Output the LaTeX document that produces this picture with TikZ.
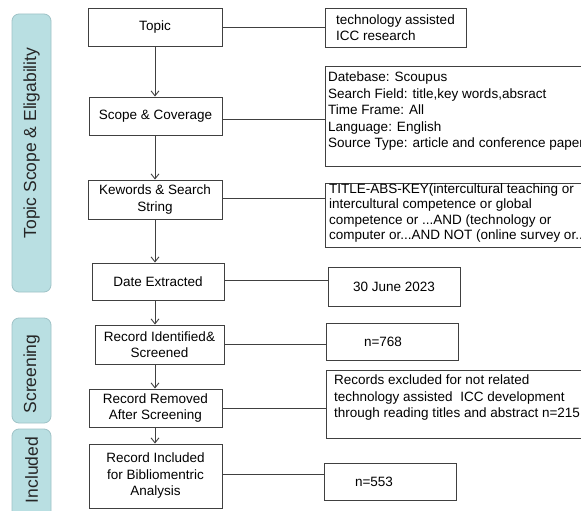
\documentclass[tikz,border=0pt]{standalone}
\usepackage{fontspec}
\setmainfont{Liberation Sans}
\usetikzlibrary{arrows.meta}
\definecolor{sidefill}{HTML}{B9DFE2}
\definecolor{sideedge}{HTML}{9FC3C7}
\definecolor{lineclr}{HTML}{404040}
\begin{document}
\begin{tikzpicture}[x=1pt,y=-1pt,
  box/.style={draw=lineclr, line width=0.9pt, inner sep=0pt, font=\fontsize{13.5}{16.5}\selectfont, align=center},
  txt/.style={inner sep=0pt, font=\fontsize{13.5}{16.5}\selectfont, align=left, anchor=north west},
  side/.style={draw=sideedge, fill=sidefill, rounded corners=7pt, line width=0.8pt, inner sep=0pt},
  sidetxt/.style={rotate=90, inner sep=0pt, font=\fontsize{17.5}{20}\selectfont, text=black!85},
  arr/.style={-{Straight Barb[length=5pt,width=8pt]}, line width=0.9pt, draw=lineclr},
  link/.style={line width=0.9pt, draw=lineclr}]
\clip (0,0) rectangle (581,511);
\fill[white] (0,0) rectangle (581,511);

% side labels
\node[side, minimum width=39pt, minimum height=278pt] (s1) at (31.5,153) {};
\node[sidetxt] (s1t) at (31.5,143) {Topic Scope \& Eligability};
\node[side, minimum width=39pt, minimum height=105pt] (s2) at (31.5,370.5) {};
\node[sidetxt] (s2t) at (31.5,374) {Screening};
\node[side, minimum width=39pt, minimum height=92pt] (s3) at (31.5,475) {};
\node[sidetxt] (s3t) at (31.5,470) {Included};

% main column
\node[box, minimum width=134pt, minimum height=38pt] (topic) at (155,27) {Topic};
\node[box, minimum width=133pt, minimum height=38pt] (scope) at (155.5,116) {Scope \& Coverage};
\node[box, minimum width=134pt, minimum height=39pt] (kew) at (155,199.5) {Kewords \& Search\\String};
\node[box, minimum width=132pt, minimum height=37pt] (date) at (158,281.5) {Date Extracted};
\node[box, minimum width=129pt, minimum height=39pt] (rid) at (159.5,344.5) {Record Identified\&\\Screened};
\node[box, minimum width=133pt, minimum height=38pt] (rem) at (155.5,408) {Record Removed\\After Screening};
\node[box, minimum width=133pt, minimum height=64pt] (inc) at (155.5,476) {Record Included\\for Bibliomentric\\Analysis};

% right column
\node[box, align=left, minimum width=141pt, minimum height=39pt, font=\fontsize{13.5}{16}\selectfont] (tech) at (395.5,27.5) {technology assisted\\ICC research};
\node[box, minimum width=285pt, minimum height=100pt] (db) at (467.5,116) {};
\node[txt] (dbt) at (328,72) {Datebase: Scoupus\\Search Field: title,key words,absract\\Time Frame: All\\Language: English\\Source Type: article and conference paper};
\node[box, minimum width=285pt, minimum height=64pt] (kw) at (467.5,215) {};
\node[txt, font=\fontsize{13.5}{15.4}\selectfont] (kwt) at (329,183.5) {TITLE-ABS-KEY(intercultural teaching or\\intercultural competence or global\\competence or ...AND (technology or\\computer or...AND NOT (online survey or...};
\node[box, minimum width=132pt, minimum height=39pt] (dt) at (394,286.5) {30 June 2023};
\node[box, minimum width=132pt, minimum height=37pt, text width=132pt, align=left] (n1) at (392,341.5) {\hspace*{38pt}n=768};
\node[box, minimum width=285pt, minimum height=68pt] (excl) at (468.5,404) {};
\node[txt] (exclt) at (334,375) {Records excluded for not related\\technology assisted\ \ ICC development\\through reading titles and abstract n=215};
\node[box, minimum width=132pt, minimum height=37pt, text width=132pt, align=left] (n2) at (390,481.5) {\hspace*{31pt}n=553};

% vertical arrows
\draw[arr] (topic.south) -- (topic.south |- scope.north);
\draw[arr] (topic.south |- scope.south) -- (topic.south |- kew.north);
\draw[arr] (topic.south |- kew.south) -- (topic.south |- date.north);
\draw[arr] (topic.south |- date.south) -- (topic.south |- rid.north);
\draw[arr] (topic.south |- rid.south) -- (topic.south |- rem.north);
\draw[arr] (topic.south |- rem.south) -- (topic.south |- inc.north);

% horizontal links
\draw[link] (topic.east) -- (topic.east -| tech.west);
\draw[link] ([yshift=-3pt]scope.east) -- ([yshift=-3pt]scope.east -| db.west);
\draw[link] ([yshift=1pt]kew.east) -- ([yshift=1pt]kew.east -| kw.west);
\draw[link] ([yshift=1.5pt]date.east) -- ([yshift=1.5pt]date.east -| dt.west);
\draw[link] (rid.east) -- (rid.east -| n1.west);
\draw[link] (rem.east) -- (rem.east -| excl.west);
\draw[link] ([yshift=2pt]inc.east) -- ([yshift=2pt]inc.east -| n2.west);
\end{tikzpicture}
\end{document}
